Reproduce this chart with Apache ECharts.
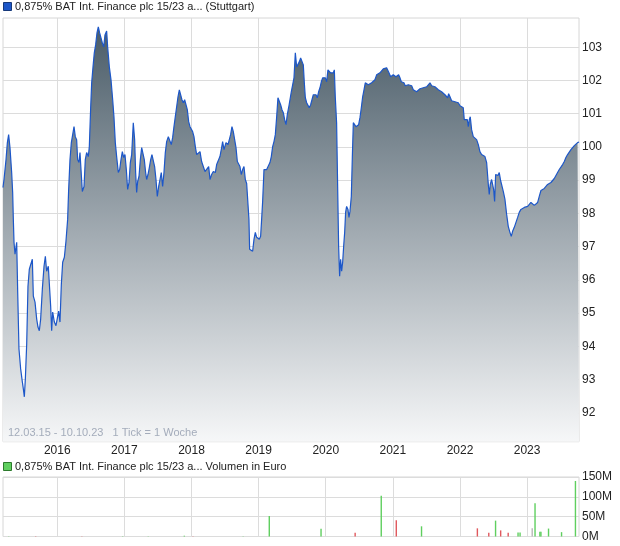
<!DOCTYPE html>
<html><head><meta charset="utf-8">
<script src="https://cdn.jsdelivr.net/npm/echarts@6/dist/echarts.min.js"></script>
<style>html,body{margin:0;padding:0;background:#fff}#c{width:620px;height:546px}</style>
</head><body><div id="c"></div>
<script>
// ---- texts ----
const titlePrice = '0,875% BAT Int. Finance plc 15/23 a... (Stuttgart)';
const titleVolume = '0,875% BAT Int. Finance plc 15/23 a... Volumen in Euro';
const rangeNote = '12.03.15 - 10.10.23   1 Tick = 1 Woche';

// ---- axes (decimal years: 12.03.2015 .. 10.10.2023) ----
const xStart = 2015.192, xEnd = 2023.773;
const yearTicks = [2016, 2017, 2018, 2019, 2020, 2021, 2022, 2023];
const priceMin = 91.13, priceMax = 103.88;
const priceTicks = [92, 93, 94, 95, 96, 97, 98, 99, 100, 101, 102, 103];
const volumeTicks = [0, 50, 100, 150]; // millions

// ---- weekly prices [decimal year, price] ----
const pricePoints = [
[2015.192,98.78],[2015.207,99.02],[2015.237,99.62],[2015.257,100.13],[2015.276,100.37],[2015.296,99.98],[2015.321,99.23],[2015.336,98.63],[2015.346,97.82],[2015.356,97.13],[2015.371,96.77],[2015.396,97.13],[2015.411,95.63],[2015.430,93.92],[2015.455,93.32],[2015.480,92.93],[2015.495,92.72],[2015.510,92.48],[2015.525,93.02],[2015.545,94.07],[2015.564,95.81],[2015.584,96.32],[2015.609,96.38],[2015.629,96.62],[2015.644,95.51],[2015.669,95.33],[2015.694,94.82],[2015.713,94.58],[2015.733,94.47],[2015.753,94.82],[2015.778,95.72],[2015.803,96.41],[2015.823,96.71],[2015.842,96.26],[2015.867,96.41],[2015.882,96.44],[2015.902,95.21],[2015.917,94.47],[2015.932,95.03],[2015.957,94.73],[2015.981,94.62],
[2016.001,94.67],[2016.021,95.06],[2016.041,94.73],[2016.061,95.87],[2016.081,96.53],[2016.106,96.68],[2016.130,97.16],[2016.155,97.82],[2016.170,98.72],[2016.190,99.62],[2016.210,100.13],[2016.230,100.37],[2016.250,100.61],[2016.269,100.31],[2016.289,100.22],[2016.304,99.62],[2016.324,99.53],[2016.339,99.83],[2016.354,99.32],[2016.374,98.66],[2016.399,98.81],[2016.418,99.62],[2016.438,99.83],[2016.463,99.71],[2016.478,100.01],[2016.498,101.18],[2016.513,101.93],[2016.533,102.41],[2016.552,102.83],[2016.572,103.07],[2016.592,103.43],[2016.612,103.61],[2016.632,103.43],[2016.652,103.28],[2016.672,103.13],[2016.692,103.01],[2016.711,103.37],[2016.736,103.49],[2016.751,103.01],[2016.776,102.41],[2016.801,102.02],[2016.826,101.42],[2016.845,100.91],[2016.865,100.13],[2016.885,99.71],[2016.910,99.23],[2016.930,99.32],[2016.950,99.62],[2016.970,99.86],[2016.990,99.68],
[2017.009,99.77],[2017.029,99.32],[2017.049,98.72],[2017.069,98.93],[2017.089,99.53],[2017.109,99.77],[2017.133,100.73],[2017.153,100.22],[2017.168,99.23],[2017.183,98.63],[2017.198,98.96],[2017.218,99.11],[2017.238,99.62],[2017.258,99.98],[2017.277,99.92],[2017.297,99.62],[2017.317,99.23],[2017.332,99.02],[2017.352,99.17],[2017.372,99.38],[2017.392,99.62],[2017.411,99.77],[2017.431,99.71],[2017.451,99.41],[2017.471,99.02],[2017.491,98.51],[2017.511,98.81],[2017.531,99.02],[2017.550,99.23],[2017.570,98.81],[2017.590,99.23],[2017.610,99.83],[2017.630,100.16],[2017.655,100.31],[2017.680,100.37],[2017.699,100.07],[2017.719,100.28],[2017.739,100.61],[2017.759,100.91],[2017.779,101.21],[2017.799,101.51],[2017.819,101.72],[2017.839,101.78],[2017.858,101.42],[2017.878,101.33],[2017.898,101.42],[2017.918,101.48],[2017.938,101.12],[2017.958,100.76],[2017.978,100.61],[2017.997,100.61],
[2018.017,100.46],[2018.037,100.31],[2018.057,100.01],[2018.077,99.77],[2018.102,99.71],[2018.127,99.86],[2018.151,99.56],[2018.176,99.53],[2018.201,99.26],[2018.226,99.32],[2018.256,99.41],[2018.276,99.02],[2018.300,99.17],[2018.325,99.26],[2018.355,99.23],[2018.375,99.47],[2018.400,99.53],[2018.424,99.71],[2018.449,99.98],[2018.464,100.16],[2018.484,99.92],[2018.514,100.13],[2018.544,100.07],[2018.563,100.13],[2018.583,100.37],[2018.603,100.61],[2018.623,100.46],[2018.643,100.22],[2018.663,99.98],[2018.683,99.56],[2018.703,99.62],[2018.722,99.41],[2018.742,99.17],[2018.762,99.32],[2018.782,99.41],[2018.802,99.02],[2018.822,98.90],[2018.842,98.87],[2018.856,97.82],[2018.866,96.92],[2018.886,96.92],[2018.911,96.86],[2018.931,97.22],[2018.951,97.43],[2018.971,97.28],[2018.991,97.31],
[2019.010,97.22],[2019.030,97.31],[2019.045,97.82],[2019.060,98.36],[2019.080,99.32],[2019.100,99.26],[2019.120,99.32],[2019.144,99.26],[2019.169,99.53],[2019.189,99.71],[2019.209,100.01],[2019.229,100.16],[2019.249,100.37],[2019.269,100.91],[2019.288,101.48],[2019.308,101.51],[2019.328,101.27],[2019.348,101.12],[2019.368,101.03],[2019.388,100.82],[2019.408,100.67],[2019.427,100.97],[2019.447,101.18],[2019.467,101.42],[2019.487,101.66],[2019.507,101.72],[2019.527,102.08],[2019.547,102.83],[2019.567,102.41],[2019.586,102.41],[2019.606,102.56],[2019.626,102.68],[2019.646,102.71],[2019.666,102.47],[2019.681,101.93],[2019.696,101.48],[2019.716,101.33],[2019.735,101.27],[2019.755,101.18],[2019.775,101.27],[2019.795,101.33],[2019.815,101.57],[2019.835,101.63],[2019.855,101.57],[2019.874,101.48],[2019.894,101.66],[2019.914,101.78],[2019.934,101.96],[2019.954,102.08],[2019.974,102.11],[2019.994,102.08],
[2020.013,101.96],[2020.033,102.32],[2020.053,102.26],[2020.073,102.23],[2020.093,102.26],[2020.113,102.23],[2020.128,102.32],[2020.142,101.51],[2020.162,100.73],[2020.177,98.87],[2020.192,97.01],[2020.207,96.11],[2020.222,96.62],[2020.237,96.26],[2020.252,96.53],[2020.267,97.01],[2020.282,97.43],[2020.296,98.03],[2020.311,98.21],[2020.331,98.12],[2020.346,97.88],[2020.361,98.06],[2020.381,98.51],[2020.396,99.68],[2020.411,100.73],[2020.431,100.67],[2020.450,100.61],[2020.470,100.58],[2020.490,100.67],[2020.510,100.88],[2020.530,101.18],[2020.550,101.51],[2020.570,101.72],[2020.589,101.93],[2020.609,101.87],[2020.634,101.87],[2020.659,101.93],[2020.684,101.93],[2020.709,101.87],[2020.733,102.02],[2020.758,102.17],[2020.783,102.17],[2020.808,102.23],[2020.833,102.26],[2020.857,102.35],[2020.882,102.38],[2020.907,102.38],[2020.922,102.41],[2020.942,102.23],[2020.967,102.11],[2020.987,102.11],
[2021.006,102.17],[2021.026,102.17],[2021.046,102.11],[2021.066,102.14],[2021.086,102.17],[2021.106,102.08],[2021.126,101.96],[2021.146,101.93],[2021.165,101.93],[2021.185,101.84],[2021.205,101.87],[2021.230,101.87],[2021.255,101.90],[2021.280,101.84],[2021.304,101.72],[2021.329,101.75],[2021.354,101.66],[2021.379,101.69],[2021.404,101.75],[2021.429,101.78],[2021.453,101.78],[2021.478,101.78],[2021.503,101.81],[2021.528,101.87],[2021.553,101.93],[2021.578,101.84],[2021.602,101.81],[2021.627,101.81],[2021.652,101.78],[2021.677,101.72],[2021.702,101.66],[2021.726,101.66],[2021.751,101.63],[2021.776,101.57],[2021.801,101.51],[2021.816,101.48],[2021.831,101.60],[2021.851,101.51],[2021.875,101.39],[2021.900,101.36],[2021.925,101.36],[2021.950,101.33],[2021.975,101.33],
[2022.000,101.24],[2022.024,101.21],[2022.049,101.18],[2022.064,100.82],[2022.089,100.82],[2022.109,100.82],[2022.124,100.61],[2022.139,100.82],[2022.153,100.91],[2022.173,100.52],[2022.198,100.31],[2022.223,100.28],[2022.248,100.22],[2022.273,100.07],[2022.297,99.86],[2022.322,99.77],[2022.347,99.83],[2022.372,99.71],[2022.397,99.53],[2022.422,98.87],[2022.436,98.57],[2022.451,98.87],[2022.471,99.02],[2022.486,98.96],[2022.501,98.72],[2022.516,98.36],[2022.531,99.17],[2022.546,99.23],[2022.566,99.14],[2022.585,99.23],[2022.605,98.99],[2022.625,99.02],[2022.645,98.66],[2022.670,98.42],[2022.695,97.97],[2022.719,97.61],[2022.744,97.43],[2022.764,97.31],[2022.784,97.46],[2022.809,97.58],[2022.834,97.73],[2022.859,97.88],[2022.883,98.03],[2022.908,98.12],[2022.933,98.12],[2022.958,98.18],[2022.983,98.15],
[2023.008,98.21],[2023.032,98.27],[2023.057,98.33],[2023.082,98.33],[2023.107,98.24],[2023.132,98.30],[2023.157,98.33],[2023.181,98.51],[2023.206,98.69],[2023.231,98.75],[2023.256,98.75],[2023.281,98.81],[2023.305,98.87],[2023.330,98.93],[2023.355,98.93],[2023.380,98.96],[2023.405,99.05],[2023.430,99.11],[2023.454,99.23],[2023.479,99.32],[2023.504,99.38],[2023.529,99.47],[2023.554,99.56],[2023.578,99.68],[2023.603,99.77],[2023.628,99.83],[2023.653,99.92],[2023.678,99.98],[2023.703,100.04],[2023.727,100.10],[2023.752,100.13],[2023.773,100.15]
];

// ---- weekly volume (millions of euro) ----
const volumeDates = [2015.277,2015.678,2016.367,2016.974,2017.356,2017.893,2018.022,2018.770,2019.159,2019.930,2020.438,2020.827,2021.051,2021.427,2022.259,2022.429,2022.530,2022.606,2022.718,2022.865,2022.895,2023.076,2023.118,2023.190,2023.206,2023.319,2023.513,2023.720];
const volumeMillions = [0.8,0.8,0.8,0.8,0.8,2,0.8,0.8,51.5,19.7,9.4,103,41,25.7,20.6,9.4,40,15.4,9.4,10,10,21,84,12,12,20,11,140];
const volumeDirection = ['up','down','down','up','up','up','down','up','up','up','down','up','down','up','down','down','up','down','down','up','up','flat','up','up','up','up','up','up'];

const FONT = 'Liberation Sans, Arial, sans-serif';
const dirColor = {up:'#5fcf5f', down:'#e0585d', flat:'#b8b8b8'};

const chart = echarts.init(document.getElementById('c'), null, {renderer:'canvas'});
const gridLine = {show:true, lineStyle:{color:'#dcdcdc', width:1}};

chart.setOption({
  animation:false,
  backgroundColor:'#ffffff',
  grid:[
    {left:3, right:41, top:18, bottom:104.3, show:true, borderColor:'#d6d6d6', borderWidth:1, backgroundColor:'transparent'},
    {left:3, right:41, top:477, bottom:9.5, show:true, borderColor:'#d6d6d6', borderWidth:1, backgroundColor:'transparent'}
  ],
  xAxis:[
    {type:'value', gridIndex:0, min:xStart, max:xEnd,
     axisLine:{show:false}, axisTick:{show:false, customValues:yearTicks},
     splitLine:gridLine,
     axisLabel:{customValues:yearTicks, formatter:v=>String(Math.round(v)), color:'#222', fontSize:12, fontFamily:FONT, margin:3}},
    {type:'value', gridIndex:1, min:xStart, max:xEnd,
     axisLine:{show:false}, axisTick:{show:false, customValues:yearTicks},
     splitLine:gridLine, axisLabel:{show:false, customValues:yearTicks}}
  ],
  yAxis:[
    {type:'value', gridIndex:0, position:'right', min:priceMin, max:priceMax,
     axisLine:{show:false}, axisTick:{show:false, customValues:priceTicks},
     splitLine:gridLine,
     axisLabel:{customValues:priceTicks, formatter:v=>String(Math.round(v)), color:'#222', fontSize:12, fontFamily:FONT, margin:3}},
    {type:'value', gridIndex:1, position:'right', min:0, max:150,
     axisLine:{show:false}, axisTick:{show:false, customValues:volumeTicks},
     splitLine:gridLine,
     axisLabel:{customValues:volumeTicks, formatter:v=>Math.round(v)+'M', color:'#222', fontSize:12, fontFamily:FONT, margin:3}}
  ],
  series:[
    {type:'line', xAxisIndex:0, yAxisIndex:0, data:pricePoints, showSymbol:false, symbol:'none',
     lineStyle:{color:'#1d57c8', width:1.2},
     areaStyle:{origin:'start', opacity:1, color:new echarts.graphic.LinearGradient(0,0,0,1,[
       {offset:0, color:'#4a5c68'},{offset:0.5, color:'#a2abb2'},{offset:1, color:'#f6f7f8'}])},
     z:2},
    {type:'bar', xAxisIndex:1, yAxisIndex:1, barWidth:1.4,
     data:volumeDates.map((d,i)=>[d, volumeMillions[i]]),
     itemStyle:{color:p=>dirColor[volumeDirection[p.dataIndex]]}}
  ],
  graphic:[
    {type:'rect', shape:{x:3.5, y:2.5, width:8, height:8}, style:{fill:'#1d57c8', stroke:'#17397a', lineWidth:1}},
    {type:'text', x:15, y:7, style:{text:titlePrice, font:'11px '+FONT, fill:'#222', verticalAlign:'middle'}},
    {type:'text', x:8, y:433, z:10, style:{text:rangeNote, font:'11px '+FONT, fill:'#a4acbb', verticalAlign:'middle'}},
    {type:'rect', shape:{x:3.5, y:462.5, width:8, height:8}, style:{fill:'#5fcf5f', stroke:'#2d7a2d', lineWidth:1}},
    {type:'text', x:15, y:467, style:{text:titleVolume, font:'11px '+FONT, fill:'#222', verticalAlign:'middle'}}
  ]
});
</script></body></html>
